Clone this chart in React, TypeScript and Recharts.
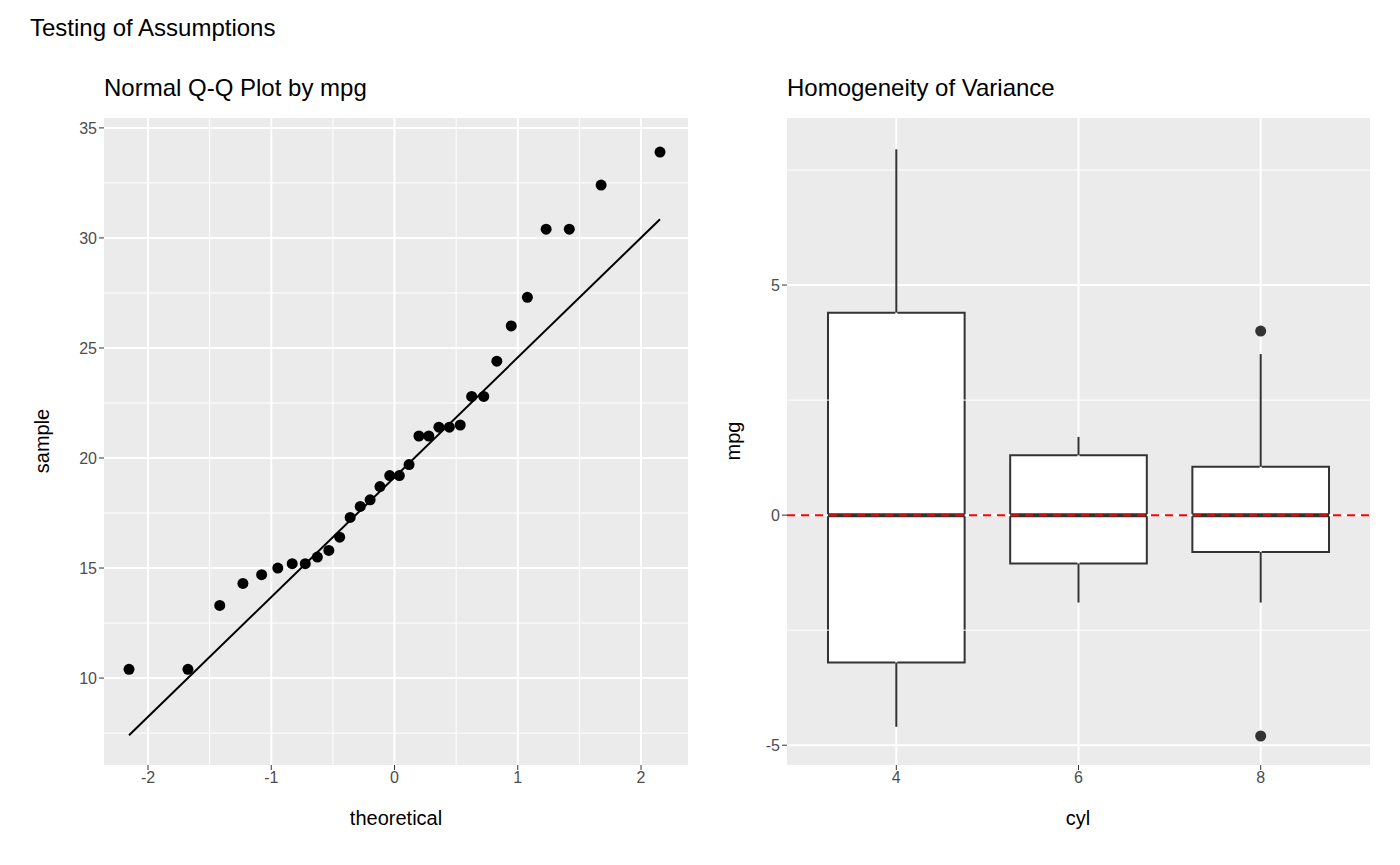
import React from "react";
import {
  ScatterChart,
  Scatter,
  XAxis,
  YAxis,
  ReferenceLine,
  ReferenceArea,
} from "recharts";

// Normal Q-Q of mtcars mpg
const theoretical = [
  -2.154, -1.676, -1.418, -1.230, -1.078, -0.947, -0.830, -0.724, -0.626, -0.533, -0.445,
  -0.360, -0.278, -0.198, -0.118, -0.039, 0.039, 0.118, 0.198, 0.278, 0.360, 0.445, 0.533,
  0.626, 0.724, 0.830, 0.947, 1.078, 1.230, 1.418, 1.676, 2.154,
];
const sample = [
  10.4, 10.4, 13.3, 14.3, 14.7, 15.0, 15.2, 15.2, 15.5, 15.8, 16.4, 17.3, 17.8, 18.1, 18.7,
  19.2, 19.2, 19.7, 21.0, 21.0, 21.4, 21.4, 21.5, 22.8, 22.8, 24.4, 26.0, 27.3, 30.4, 30.4,
  32.4, 33.9,
];
const qqLine = [
  { x: -2.154, y: 7.4 },
  { x: 2.154, y: 30.85 },
];
const qqXTicks = [-2, -1, 0, 1, 2];
const qqYTicks = [10, 15, 20, 25, 30, 35];
const qqXMinor = [-1.5, -0.5, 0.5, 1.5];
const qqYMinor = [7.5, 12.5, 17.5, 22.5, 27.5, 32.5];

// Boxplots of mpg centred on group median
const cylLabels = ["4", "6", "8"];
const boxStats = [
  { lo: -4.6, q1: -3.2, med: 0, q3: 4.4, hi: 7.95 },
  { lo: -1.9, q1: -1.05, med: 0, q3: 1.3, hi: 1.7 },
  { lo: -1.9, q1: -0.8, med: 0, q3: 1.05, hi: 3.5 },
];
const outliers = [
  { x: 3, y: 4.0 },
  { x: 3, y: -4.8 },
];
const varYTicks = [-5, 0, 5];
const varYMinor = [-2.5, 2.5, 7.5];

const txt: React.CSSProperties = {
  position: "absolute",
  fontFamily: "Liberation Sans, Arial, sans-serif",
  color: "#000",
  whiteSpace: "nowrap",
};
const tickStyle = { fontSize: 16, fill: "#4d4d4d", fontFamily: "Liberation Sans, Arial, sans-serif" };

const qqData = theoretical.map((t, i) => ({ x: t, y: sample[i] }));

const QQPlot = () => (
  <ScatterChart width={700} height={865} margin={{ top: 118, right: 12, bottom: 70, left: 64 }}>
    <rect x={104} y={118} width={584} height={647} fill="#ebebeb" />
    <XAxis type="number" dataKey="x" domain={[-2.357, 2.381]} ticks={qqXTicks} allowDataOverflow
      axisLine={false} tickSize={5} tickLine={{ stroke: "#333" }} tick={tickStyle} height={30} />
    <YAxis type="number" dataKey="y" domain={[6.05, 35.45]} ticks={qqYTicks} allowDataOverflow
      axisLine={false} tickSize={5} tickLine={{ stroke: "#333" }} tick={tickStyle} width={40} />
    {qqXMinor.map((v) => <ReferenceLine key={"xm" + v} x={v} stroke="#fff" strokeWidth={1} />)}
    {qqYMinor.map((v) => <ReferenceLine key={"ym" + v} y={v} stroke="#fff" strokeWidth={1} />)}
    {qqXTicks.map((v) => <ReferenceLine key={"x" + v} x={v} stroke="#fff" strokeWidth={2} />)}
    {qqYTicks.map((v) => <ReferenceLine key={"y" + v} y={v} stroke="#fff" strokeWidth={2} />)}
    <Scatter data={qqLine} line={{ stroke: "#000", strokeWidth: 2 }} shape={() => null} isAnimationActive={false} />
    <Scatter data={qqData} fill="#000" shape={(p: any) => <circle cx={p.cx} cy={p.cy} r={5.5} fill="#000" />} isAnimationActive={false} />
  </ScatterChart>
);

const VarPlot = () => (
  <ScatterChart width={700} height={865} margin={{ top: 118, right: 30, bottom: 70, left: 47 }}>
    <rect x={787} y={118} width={583} height={647} fill="#ebebeb" transform="translate(-700,0)" />
    <XAxis type="number" dataKey="x" domain={[0.4, 3.6]} ticks={[1, 2, 3]} allowDataOverflow
      tickFormatter={(v: number) => cylLabels[v - 1]}
      axisLine={false} tickSize={5} tickLine={{ stroke: "#333" }} tick={tickStyle} height={30} />
    <YAxis type="number" dataKey="y" domain={[-5.43, 8.63]} ticks={varYTicks} allowDataOverflow
      axisLine={false} tickSize={5} tickLine={{ stroke: "#333" }} tick={tickStyle} width={40} />
    {varYMinor.map((v) => <ReferenceLine key={"ym" + v} y={v} stroke="#fff" strokeWidth={1} />)}
    {[1, 2, 3].map((v) => <ReferenceLine key={"x" + v} x={v} stroke="#fff" strokeWidth={2} />)}
    {varYTicks.map((v) => <ReferenceLine key={"y" + v} y={v} stroke="#fff" strokeWidth={2} />)}
    {boxStats.map((b, i) => (
      <ReferenceLine key={"wu" + i} segment={[{ x: i + 1, y: b.q3 }, { x: i + 1, y: b.hi }]} stroke="#333" strokeWidth={2} />
    ))}
    {boxStats.map((b, i) => (
      <ReferenceLine key={"wl" + i} segment={[{ x: i + 1, y: b.lo }, { x: i + 1, y: b.q1 }]} stroke="#333" strokeWidth={2} />
    ))}
    {boxStats.map((b, i) => (
      <ReferenceArea key={"b" + i} x1={i + 0.625} x2={i + 1.375} y1={b.q1} y2={b.q3}
        fill="#fff" fillOpacity={1} stroke="#333" strokeWidth={2} />
    ))}
    {boxStats.map((b, i) => (
      <ReferenceLine key={"m" + i} segment={[{ x: i + 0.625, y: b.med }, { x: i + 1.375, y: b.med }]} stroke="#333" strokeWidth={4} />
    ))}
    <ReferenceLine y={0} stroke="#ff0000" strokeWidth={2} strokeDasharray="8 6" />
    <Scatter data={outliers} shape={(p: any) => <circle cx={p.cx} cy={p.cy} r={5.5} fill="#333" />} isAnimationActive={false} />
  </ScatterChart>
);

export default function App() {
  return (
    <div style={{ position: "absolute", left: 0, top: 0, width: 1400, height: 865, background: "#fff" }}>
      <div style={{ position: "absolute", left: 0, top: 0 }}><QQPlot /></div>
      <div style={{ position: "absolute", left: 700, top: 0 }}><VarPlot /></div>
      <div style={{ ...txt, left: 30, top: 14, fontSize: 24 }}>Testing of Assumptions</div>
      <div style={{ ...txt, left: 104, top: 74, fontSize: 24 }}>Normal Q-Q Plot by mpg</div>
      <div style={{ ...txt, left: 787, top: 74, fontSize: 24 }}>Homogeneity of Variance</div>
      <div style={{ ...txt, left: 396, top: 807, fontSize: 20, transform: "translateX(-50%)" }}>theoretical</div>
      <div style={{ ...txt, left: 1078, top: 807, fontSize: 20, transform: "translateX(-50%)" }}>cyl</div>
      <div style={{ ...txt, left: 42, top: 441, fontSize: 20, transform: "translate(-50%,-50%) rotate(-90deg)" }}>sample</div>
      <div style={{ ...txt, left: 733, top: 441, fontSize: 20, transform: "translate(-50%,-50%) rotate(-90deg)" }}>mpg</div>
    </div>
  );
}
